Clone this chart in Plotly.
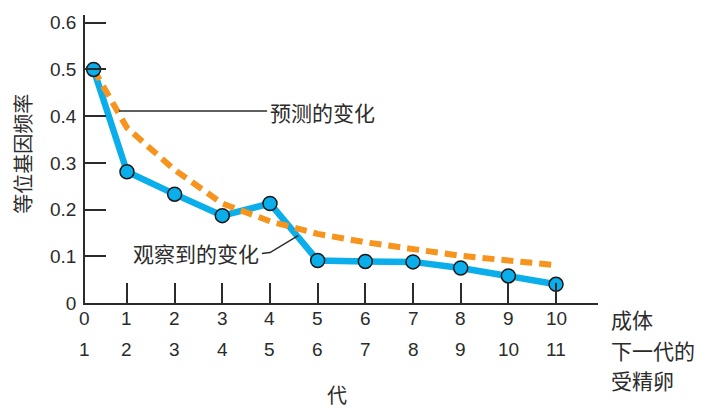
import plotly.graph_objects as go

# Data
gen = [0.3, 1, 2, 3, 4, 5, 6, 7, 8, 9, 10]
observed = [0.5, 0.281, 0.233, 0.187, 0.213, 0.091, 0.089, 0.088, 0.075, 0.058, 0.040]
predicted = [0.5, 0.375, 0.285, 0.213, 0.175, 0.148, 0.130, 0.114, 0.101, 0.091, 0.081]
adult_labels = ["0", "1", "2", "3", "4", "5", "6", "7", "8", "9", "10"]
egg_labels = ["1", "2", "3", "4", "5", "6", "7", "8", "9", "10", "11"]
label_x = [0.1, 1, 2, 3, 4, 5, 6, 7, 8, 9, 10]
y_ticks = [0, 0.1, 0.2, 0.3, 0.4, 0.5, 0.6]
y_ticktext = ["0", "0.1", "0.2", "0.3", "0.4", "0.5", "0.6"]

X_RANGE = [0.12, 10.88]

BLUE = "#0AAEEA"
ORANGE = "#F7941D"
DARK = "#2b2b2b"
CJK = "Noto Sans CJK SC"
NUM = "Liberation Sans"


def to_paper(xv):
    return (xv - X_RANGE[0]) / (X_RANGE[1] - X_RANGE[0])


fig = go.Figure()
fig.add_trace(go.Scatter(x=gen, y=observed, mode="lines",
                         line=dict(color=BLUE, width=6.5), hoverinfo="skip"))
fig.add_trace(go.Scatter(x=gen, y=predicted, mode="lines",
                         line=dict(color=ORANGE, width=6, dash="12px,7px"), hoverinfo="skip"))
fig.add_trace(go.Scatter(x=gen, y=observed, mode="markers",
                         marker=dict(color=BLUE, size=14, line=dict(color="#1a1a1a", width=1.5))))

ann = []
for xv, a, e in zip(label_x, adult_labels, egg_labels):
    ann.append(dict(x=to_paper(xv), y=-0.055, xref="paper", yref="paper", text=a, showarrow=False,
                    font=dict(family=NUM, size=19, color=DARK), xanchor="center", yanchor="middle"))
    ann.append(dict(x=to_paper(xv), y=-0.162, xref="paper", yref="paper", text=e, showarrow=False,
                    font=dict(family=NUM, size=19, color=DARK), xanchor="center", yanchor="middle"))

ann += [
    dict(x=1.022, y=-0.055, xref="paper", yref="paper", text="成体", showarrow=False,
         font=dict(family=CJK, size=21, color=DARK), xanchor="left", yanchor="middle"),
    dict(x=1.022, y=-0.162, xref="paper", yref="paper", text="下一代的", showarrow=False,
         font=dict(family=CJK, size=21, color=DARK), xanchor="left", yanchor="middle"),
    dict(x=1.022, y=-0.268, xref="paper", yref="paper", text="受精卵", showarrow=False,
         font=dict(family=CJK, size=21, color=DARK), xanchor="left", yanchor="middle"),
    dict(x=to_paper(5.4), y=-0.318, xref="paper", yref="paper", text="代", showarrow=False,
         font=dict(family=CJK, size=20, color=DARK), xanchor="center", yanchor="middle"),
    dict(x=-0.122, y=0.52, xref="paper", yref="paper", text="等位基因频率", showarrow=False,
         textangle=-90, font=dict(family=CJK, size=20, color=DARK), xanchor="center", yanchor="middle"),
    dict(x=3.96, y=0.409, xref="x", yref="y", text="预测的变化", showarrow=False,
         font=dict(family=CJK, size=21, color=DARK), xanchor="left", yanchor="middle"),
    dict(x=3.81, y=0.106, xref="x", yref="y", text="观察到的变化", showarrow=False,
         font=dict(family=CJK, size=21, color=DARK), xanchor="right", yanchor="middle"),
]

shapes = [
    dict(type="line", xref="x", yref="y", x0=0.83, y0=0.411, x1=3.94, y1=0.411,
         line=dict(color=DARK, width=1.5)),
    dict(type="path", xref="x", yref="y", path="M 3.83 0.106 L 4.0 0.108 L 4.59 0.144",
         line=dict(color=DARK, width=1.5)),
]

fig.update_layout(
    width=702, height=408,
    margin=dict(l=85, r=104, t=12, b=105),
    paper_bgcolor="white", plot_bgcolor="white",
    showlegend=False,
    annotations=ann, shapes=shapes,
    xaxis=dict(range=X_RANGE, tickvals=list(range(1, 11)), showticklabels=False,
               ticks="inside", ticklen=20, tickwidth=1.5, tickcolor=DARK,
               showline=True, linecolor=DARK, linewidth=1.5, showgrid=False, zeroline=False,
               fixedrange=True),
    yaxis=dict(range=[0, 0.6165], tickvals=y_ticks, ticktext=y_ticktext,
               ticks="inside", ticklen=21, tickwidth=1.5, tickcolor=DARK,
               tickfont=dict(family=NUM, size=19, color=DARK), ticklabelstandoff=3,
               showline=True, linecolor=DARK, linewidth=1.5, showgrid=False, zeroline=False,
               fixedrange=True),
)

fig.write_html("out.html")
